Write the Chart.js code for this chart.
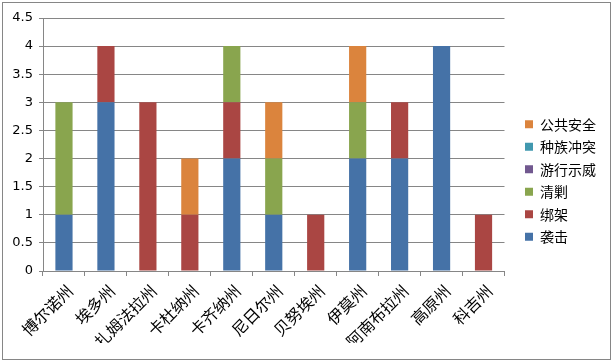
<!DOCTYPE html>
<html>
<head>
<meta charset="utf-8">
<script src="https://cdn.jsdelivr.net/npm/chart.js@4"></script>
<style>
  html, body { margin: 0; padding: 0; background: #fff; }
  #wrap { position: absolute; left: 0; top: 0; width: 614px; height: 361px; }
  #frame { position: absolute; left: 2px; top: 2px; width: 607px; height: 356px; border: 1px solid #868686; pointer-events: none; }
</style>
</head>
<body>
<div id="wrap">
  <canvas id="c" width="614" height="361"></canvas>
  <div id="frame"></div>
</div>
<script>
// 州名
var states = ['博尔诺州', '埃多州', '扎姆法拉州', '卡杜纳州', '卡齐纳州', '尼日尔州', '贝努埃州', '伊莫州', '阿南布拉州', '高原州', '科吉州'];

// 每类事件数量
var xiji      = [1, 3, 0, 0, 2, 1, 0, 2, 2, 4, 0]; // 袭击
var bangjia   = [0, 1, 3, 1, 1, 0, 1, 0, 1, 0, 1]; // 绑架
var qingjiao  = [2, 0, 0, 0, 1, 1, 0, 1, 0, 0, 0]; // 清剿
var youxing   = [0, 0, 0, 0, 0, 0, 0, 0, 0, 0, 0]; // 游行示威
var zhongzu   = [0, 0, 0, 0, 0, 0, 0, 0, 0, 0, 0]; // 种族冲突
var gonggong  = [0, 0, 0, 1, 0, 1, 0, 1, 0, 0, 0]; // 公共安全

var yTicks = [0, 0.5, 1, 1.5, 2, 2.5, 3, 3.5, 4, 4.5];

var gridColor = '#868686';
var cjk = '"Noto Sans CJK SC", "Noto Sans", sans-serif';

function ds(label, data, color) {
    return {label: label, data: data, backgroundColor: color, borderWidth: 0, stack: 's'};
}

new Chart(document.getElementById('c'), {
    type: 'bar',
    data: {
        labels: states,
        datasets: [
            ds('袭击', xiji, '#4572A7'),
            ds('绑架', bangjia, '#AA4643'),
            ds('清剿', qingjiao, '#89A54E'),
            ds('游行示威', youxing, '#71588F'),
            ds('种族冲突', zhongzu, '#4198AF'),
            ds('公共安全', gonggong, '#DB843D')
        ]
    },
    options: {
        responsive: false,
        animation: false,
        // 上下留白相同, 图例才能垂直居中
        layout: {padding: {top: 18, left: 0, right: 8, bottom: 18}},
        datasets: {bar: {categoryPercentage: 1, barPercentage: 0.41}},
        plugins: {
            tooltip: {enabled: false},
            legend: {
                position: 'right',
                reverse: true,
                labels: {
                    boxWidth: 8, boxHeight: 8, padding: 8.5,
                    color: '#000',
                    font: {family: cjk, size: 14}
                }
            }
        },
        scales: {
            x: {
                stacked: true,
                grid: {drawOnChartArea: false, drawTicks: true, tickLength: 5, color: gridColor, offset: true},
                border: {color: gridColor},
                ticks: {
                    minRotation: 45, maxRotation: 45, autoSkip: false, padding: 5, labelOffset: 6,
                    color: '#000', font: {family: cjk, size: 16}
                },
                afterFit: function (s) { s.height = 72; }
            },
            y: {
                stacked: true,
                min: 0, max: 4.5,
                afterBuildTicks: function (s) { s.ticks = yTicks.map(function (v) { return {value: v}; }); },
                grid: {color: gridColor, tickLength: 4},
                border: {color: gridColor},
                ticks: {
                    padding: 6, color: '#000',
                    font: {family: '"DejaVu Sans", sans-serif', size: 13},
                    callback: function (v) { return String(v); }
                },
                afterFit: function (s) { s.width = 43; }
            },
            gap: {
                position: 'right',
                display: true,
                grid: {display: false},
                border: {display: false},
                ticks: {display: false},
                afterFit: function (s) { s.width = 12; }
            }
        }
    }
});
</script>
</body>
</html>
